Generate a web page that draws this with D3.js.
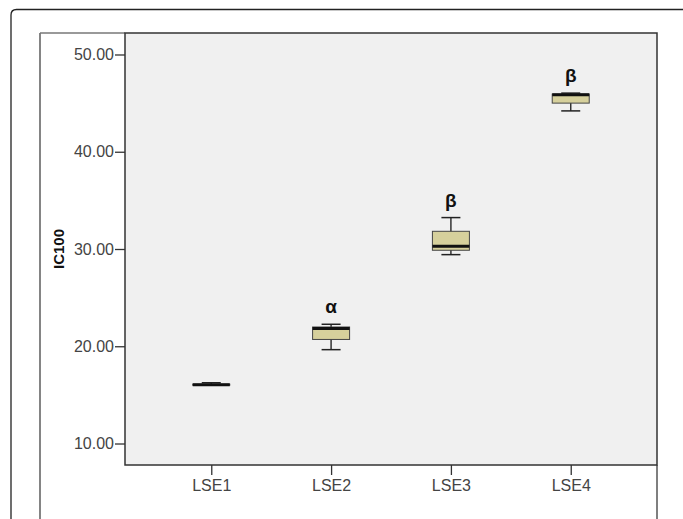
<!DOCTYPE html>
<html>
<head>
<meta charset="utf-8">
<script src="https://cdn.jsdelivr.net/npm/d3@7"></script>
<style>
  html, body { margin: 0; padding: 0; background: #fff; }
  svg { display: block; font-family: "Liberation Sans", Arial, sans-serif; }
</style>
</head>
<body>
<svg id="chart" width="683" height="519"></svg>
<script>
// Box plot of IC100 by group (SPSS style)
const groups = ["LSE1", "LSE2", "LSE3", "LSE4"];
const whiskerLow = [16.0, 19.65, 29.42, 44.2];
const q1 = [16.0, 20.7, 29.87, 45.0];
const median = [16.05, 21.82, 30.28, 45.85];
const q3 = [16.1, 21.98, 31.82, 45.93];
const whiskerHigh = [16.25, 22.26, 33.23, 46.03];
const marks = ["", "α", "β", "β"];
const yTicks = [10, 20, 30, 40, 50];

const W = 683, H = 519;
const plot = { left: 125, right: 657, top: 33, bottom: 465 };

const svg = d3.select("#chart");

// outer frame (rounded top-left corner, runs off the page)
svg.append("path")
  .attr("d", `M11,${H} V15 Q11,9.5 16.5,9.5 H${W}`)
  .attr("fill", "none")
  .attr("stroke", "#222")
  .attr("stroke-width", 1.3);

// inner chart frame
svg.append("line").attr("x1", 40).attr("x2", 40).attr("y1", plot.top).attr("y2", H)
  .attr("stroke", "#333").attr("stroke-width", 1.2);
svg.append("line").attr("x1", 40).attr("x2", plot.left).attr("y1", plot.top).attr("y2", plot.top)
  .attr("stroke", "#777").attr("stroke-width", 1.5);
svg.append("line").attr("x1", plot.right).attr("x2", plot.right).attr("y1", plot.bottom).attr("y2", H)
  .attr("stroke", "#555").attr("stroke-width", 1.5);

const x = d3.scalePoint()
  .domain(groups)
  .range([plot.left, plot.right])
  .padding(0.72);
const y = d3.scaleLinear()
  .domain([7.79, 52.21])
  .range([plot.bottom, plot.top]);

svg.append("rect")
  .attr("x", plot.left).attr("y", plot.top)
  .attr("width", plot.right - plot.left).attr("height", plot.bottom - plot.top)
  .attr("fill", "#f0f0f0")
  .attr("stroke", "#333")
  .attr("stroke-width", 1.5);

// axes
const yAxis = svg.append("g")
  .attr("transform", `translate(${plot.left},0)`)
  .call(d3.axisLeft(y).tickValues(yTicks).tickFormat(d3.format(".2f")).tickSize(10).tickSizeOuter(0).tickPadding(1));
yAxis.select(".domain").remove();
yAxis.selectAll("line").attr("stroke", "#333").attr("stroke-width", 1.3);
yAxis.selectAll("text").attr("fill", "#444").style("font-size", "16px").style("font-family", "Liberation Sans, Arial, sans-serif");

const xAxis = svg.append("g")
  .attr("transform", `translate(0,${plot.bottom})`)
  .call(d3.axisBottom(x).tickSize(10).tickSizeOuter(0).tickPadding(5));
xAxis.select(".domain").remove();
xAxis.selectAll("line").attr("stroke", "#333").attr("stroke-width", 1.3);
xAxis.selectAll("text").attr("fill", "#444").style("font-size", "16px").style("font-family", "Liberation Sans, Arial, sans-serif");

svg.append("text")
  .attr("transform", `translate(64,${(plot.top + plot.bottom) / 2}) rotate(-90)`)
  .attr("text-anchor", "middle")
  .style("font-size", "15px")
  .style("font-weight", "bold")
  .attr("fill", "#111")
  .text("IC100");

// boxes
const data = groups.map((g, i) => ({
  g, lo: whiskerLow[i], q1: q1[i], med: median[i], q3: q3[i], hi: whiskerHigh[i], mark: marks[i]
}));
const boxW = 37, capW = 19;

const box = svg.append("g").selectAll("g")
  .data(data)
  .join("g")
  .attr("transform", (d) => `translate(${x(d.g)},0)`);

box.append("line")
  .attr("y1", (d) => y(d.lo)).attr("y2", (d) => y(d.hi))
  .attr("stroke", "#333").attr("stroke-width", 1.5);
box.append("line")
  .attr("x1", -capW / 2).attr("x2", capW / 2)
  .attr("y1", (d) => y(d.hi)).attr("y2", (d) => y(d.hi))
  .attr("stroke", "#222").attr("stroke-width", 1.5);
box.append("line")
  .attr("x1", -capW / 2).attr("x2", capW / 2)
  .attr("y1", (d) => y(d.lo)).attr("y2", (d) => y(d.lo))
  .attr("stroke", "#222").attr("stroke-width", 1.5);
box.append("rect")
  .attr("x", -boxW / 2)
  .attr("width", boxW)
  .attr("y", (d) => y(d.q3))
  .attr("height", (d) => Math.max(1, y(d.q1) - y(d.q3)))
  .attr("fill", "#d6d09c")
  .attr("stroke", "#444")
  .attr("stroke-width", 1);
box.append("line")
  .attr("x1", -boxW / 2).attr("x2", boxW / 2)
  .attr("y1", (d) => y(d.med)).attr("y2", (d) => y(d.med))
  .attr("stroke", "#111").attr("stroke-width", 3);

box.append("text")
  .attr("text-anchor", "middle")
  .attr("y", (d) => y(d.hi) - 11)
  .style("font-size", "19px")
  .style("font-weight", "bold")
  .attr("fill", "#111")
  .text((d) => d.mark);
</script>
</body>
</html>
